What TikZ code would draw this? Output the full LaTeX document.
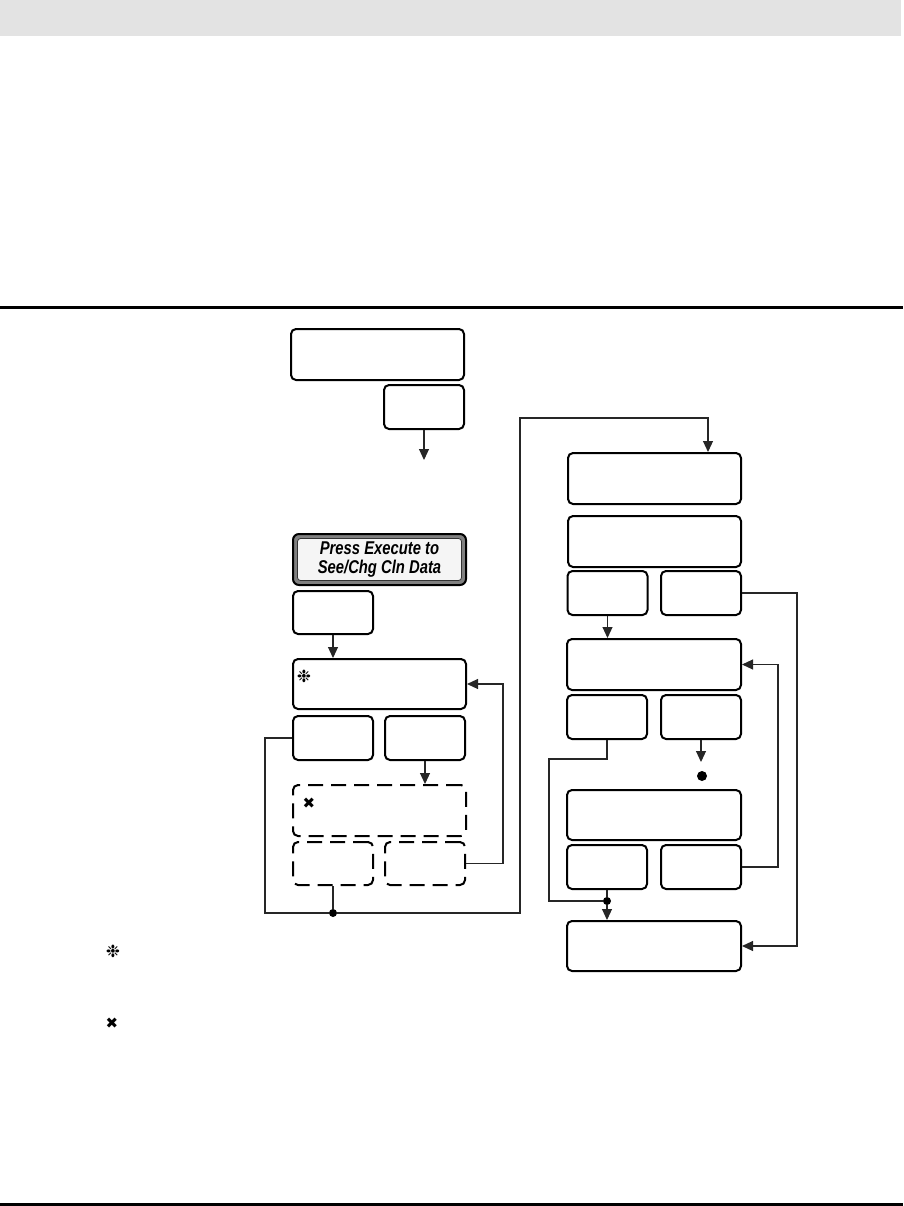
\documentclass[tikz,border=0pt]{standalone}
\usepackage{fontspec}
\setmainfont{Liberation Sans}
\newfontfamily\condfont[FakeStretch=0.8]{Liberation Sans}
\newfontfamily\symfont{DejaVu Sans}
\usetikzlibrary{arrows.meta,calc}
\tikzset{
  box/.style={draw=black, line width=2pt, rounded corners=5pt, inner sep=0pt, minimum width=173pt, minimum height=51pt},
  sbox/.style={draw=black, line width=2pt, rounded corners=5pt, inner sep=0pt, minimum width=80pt, minimum height=44pt},
  dbox/.style={box, dash pattern=on 15pt off 8pt},
  dsbox/.style={sbox, dash pattern=on 15pt off 8pt},
  conn/.style={draw=black!85, line width=1.1pt},
  arr/.style={conn, -{Triangle[length=11pt,width=10pt]}},
  dot/.style={circle, fill=black, inner sep=0pt, minimum size=8pt},
  bigdot/.style={circle, fill=black, inner sep=0pt, minimum size=10pt},
  sym/.style={inner sep=0pt, font=\symfont\fontsize{15}{15}\selectfont}
}
\begin{document}
\begin{tikzpicture}[x=1pt, y=-1pt]
\useasboundingbox (0,0) rectangle (903,1206);
% header band and rules
\fill[black!11] (0,0) rectangle (901,36);
\fill[black] (0,305.5) rectangle (903,308.5);
\fill[black] (0,1203) rectangle (903,1206);

% left column
\node[box] (A) at (377.5,354.5) {};
\node[sbox] (B) at (424,407) {};
\coordinate (Bend) at (424,460);
\draw[arr] (B.south) -- (Bend);

% gray display box
\node[draw=black, line width=2pt, fill=black!50, rounded corners=6pt, minimum width=173pt, minimum height=51pt, inner sep=0pt] (G0) at (379.5,559.5) {};
\node[draw=black!80, line width=0.8pt, fill=black!4, rounded corners=3pt, minimum width=164pt, minimum height=42pt, inner sep=0pt,
      align=center, font=\condfont\bfseries\itshape\fontsize{18.5}{19}\selectfont] (G0t) at (379.5,559.5) {Press Execute to\\See/Chg Cln Data};

\node[sbox, minimum height=43pt] (C) at (333,612.5) {};
\node[box, minimum height=50pt] (D) at (379.5,684) {};
\node[sym, font=\symfont\bfseries\fontsize{17}{17}\selectfont] (ast1) at (304,676) {❉};
\draw[arr] (C.south) -- (C.south |- D.north);

\node[sbox] (E) at (333,738) {};
\node[sbox] (F) at (425,738) {};
\node[dbox] (G) at (379.5,810.5) {};
\node[sym] (x1) at (309,803) {✖};
\draw[arr] (F.south) -- (F.south |- G.north);
\node[dsbox, minimum height=43pt] (H) at (333,863.5) {};
\node[dsbox, minimum height=43pt] (I) at (425,863.5) {};
\draw[arr] (I.east) -- ++(37,0) |- (D.east);

\node[dot] (j1) at (333,913) {};
\draw[conn] (H.south) -- (j1);
\draw[conn] (E.west) -| (265,913) -- (j1);

% right column
\node[box] (J) at (654.5,478.5) {};
\node[box] (K) at (654.5,541.5) {};
\node[sbox] (L) at (607.5,593) {};
\node[sbox] (M) at (701,593) {};
\draw[arr] (j1) -| (520,418) -| ([xshift=-34pt]J.north east);

\node[box, minimum width=174pt] (N) at (654,664.5) {};
\draw[arr] (L.south) -- (L.south |- N.north);
\node[sbox] (O) at (607,717) {};
\node[sbox] (P) at (701,717) {};
\coordinate (Pend) at (701,762);
\draw[arr] (P.south) -- (Pend);
\node[bigdot] (pd) at (702,776) {};

\node[box, minimum width=174pt, minimum height=50pt] (Q) at (654,815) {};
\node[sbox] (R) at (607,867) {};
\node[sbox] (S) at (701,867) {};
\draw[arr] (S.east) -- ++(36,0) |- (N.east);

\node[box, minimum width=174pt, minimum height=50pt] (T) at (654,946) {};
\node[dot] (j2) at (607,901) {};
\draw[conn] (O.south) -- ++(0,19) -| (549,901) -- (j2);
\draw[conn] (R.south) -- (j2);
\draw[arr] (j2) -- (j2 |- T.north);
\draw[arr] (M.east) -- ++(55,0) |- (T.east);

% legend
\node[sym, font=\symfont\bfseries\fontsize{17}{17}\selectfont] (ast2) at (113,951) {❉};
\node[sym] (x2) at (112,1023) {✖};
\end{tikzpicture}
\end{document}
